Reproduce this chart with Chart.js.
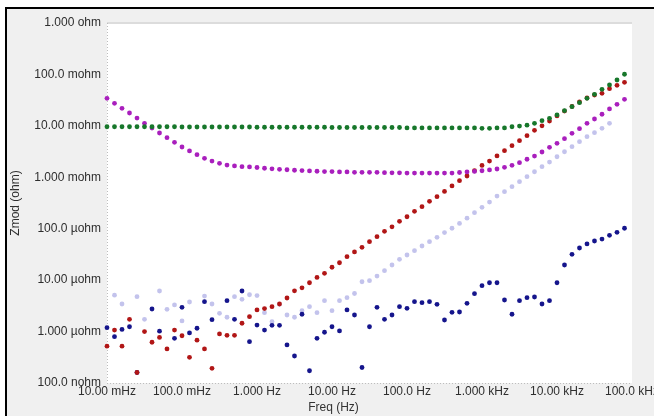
<!DOCTYPE html>
<html>
<head>
<meta charset="utf-8">
<title>Zmod vs Freq</title>
<script src="https://cdn.jsdelivr.net/npm/chart.js@4.4.1/dist/chart.umd.min.js"></script>
<style>
  html, body { margin: 0; padding: 0; background: #fff; }
  #frame {
    position: absolute; left: 5px; top: 7px; width: 649px; height: 409px;
    box-sizing: border-box; border-left: 2px solid #000; border-top: 2px solid #000;
    background: #f0f0f0;
  }
  #myChart { position: absolute; left: 0; top: 0; }
</style>
</head>
<body>
<div id="frame"><canvas id="myChart" width="647" height="407"></canvas></div>
<script>
// Frequencies (Hz), 10 points per decade
const freq = [
  0.01, 0.01259, 0.01585, 0.01995, 0.02512, 0.03162, 0.03981, 0.05012, 0.0631, 0.07943,
  0.1, 0.1259, 0.1585, 0.1995, 0.2512, 0.3162, 0.3981, 0.5012, 0.631, 0.7943,
  1, 1.259, 1.585, 1.995, 2.512, 3.162, 3.981, 5.012, 6.31, 7.943,
  10, 12.59, 15.85, 19.95, 25.12, 31.62, 39.81, 50.12, 63.1, 79.43,
  100, 125.9, 158.5, 199.5, 251.2, 316.2, 398.1, 501.2, 631, 794.3,
  1000, 1259, 1585, 1995, 2512, 3162, 3981, 5012, 6310, 7943,
  10000, 12590, 15850, 19950, 25120, 31620, 39810, 50120, 63100, 79430
];

// Zmod (ohm) per series
const zGreen = [
  0.0096, 0.0096, 0.0096, 0.0096, 0.0096, 0.0096, 0.0096, 0.0096, 0.0096, 0.0096,
  0.0095, 0.0095, 0.0095, 0.0095, 0.0095, 0.0095, 0.0095, 0.0095, 0.0095, 0.0095,
  0.0094, 0.0094, 0.0094, 0.0094, 0.0094, 0.0094, 0.0094, 0.0094, 0.0094, 0.0094,
  0.0093, 0.0093, 0.0093, 0.0093, 0.0093, 0.0093, 0.0093, 0.0093, 0.0093, 0.0093,
  0.0091, 0.0091, 0.0091, 0.0091, 0.0091, 0.0091, 0.0091, 0.0091, 0.0091, 0.0091,
  0.00897, 0.00897, 0.0091, 0.0091, 0.0096, 0.0099, 0.0103, 0.0112, 0.0126, 0.014,
  0.0163, 0.0197, 0.0236, 0.0282, 0.0343, 0.0411, 0.0514, 0.0623, 0.078, 0.1007
];
const zMagenta = [
  0.0343, 0.0274, 0.0219, 0.0178, 0.0142, 0.0112, 0.00908, 0.00726, 0.00589, 0.00479,
  0.00388, 0.00325, 0.00275, 0.00234, 0.00207, 0.00187, 0.00173, 0.00166, 0.00161, 0.00159,
  0.00155, 0.0015, 0.00146, 0.00143, 0.0014, 0.00137, 0.00135, 0.00133, 0.00131, 0.00129,
  0.00129, 0.00127, 0.00127, 0.00125, 0.00125, 0.00125, 0.00125, 0.00123, 0.00122, 0.00122,
  0.00121, 0.00121, 0.00121, 0.00121, 0.00121, 0.00121, 0.00121, 0.00124, 0.00127, 0.0013,
  0.00134, 0.00139, 0.00145, 0.00156, 0.00171, 0.00192, 0.00224, 0.00259, 0.0031, 0.00383,
  0.00458, 0.00563, 0.00716, 0.00881, 0.0112, 0.0136, 0.0168, 0.0213, 0.0262, 0.0328
];
const zRed = [
  5.2e-7, 1.07e-6, 5.2e-7, 1.73e-6, 1.6e-7, 1.0e-6, 6.2e-7, 7.7e-7, 4.6e-7, 1.07e-6,
  8.3e-7, 3.16e-7, 6.8e-7, 4.6e-7, 1.93e-7, 9.0e-7, 8.45e-7, 8.45e-7, 1.45e-6, 1.95e-6,
  2.63e-6, 2.8e-6, 3.05e-6, 3.44e-6, 4.5e-6, 6.2e-6, 7.1e-6, 8.9e-6, 1.13e-5, 1.36e-5,
  1.78e-5, 2.18e-5, 2.86e-5, 3.53e-5, 4.35e-5, 5.6e-5, 7.0e-5, 8.9e-5, 1.09e-4, 1.39e-4,
  1.71e-4, 2.18e-4, 2.68e-4, 3.41e-4, 4.2e-4, 5.3e-4, 6.8e-4, 8.6e-4, 1.06e-3, 1.34e-3,
  1.7e-3, 2.07e-3, 2.6e-3, 3.29e-3, 4.11e-3, 5.14e-3, 6.44e-3, 8.18e-3, 1.0e-2, 1.24e-2,
  1.56e-2, 1.94e-2, 2.38e-2, 2.91e-2, 3.48e-2, 3.98e-2, 4.3e-2, 5.28e-2, 6.14e-2, 7.03e-2
];
const zLavender = [
  null, 5.1e-6, 3.44e-6, null, 4.77e-6, 1.73e-6, null, 6.15e-6, 2.71e-6, 3.29e-6,
  1.61e-6, 3.76e-6, null, 4.9e-6, 3.44e-6, 2.26e-6, 1.9e-6, 4.77e-6, 4.24e-6, 5.2e-6,
  5.0e-6, 2.33e-6, 1.56e-6, 3.39e-6, 2.1e-6, 1.9e-6, 2.55e-6, 3.05e-6, 2.33e-6, 3.98e-6,
  2.55e-6, 3.98e-6, 4.56e-6, 5.5e-6, 9.3e-6, 9.75e-6, 1.2e-5, 1.53e-5, 1.97e-5, 2.54e-5,
  3.08e-5, 3.74e-5, 4.61e-5, 5.6e-5, 6.8e-5, 8.4e-5, 1.02e-4, 1.27e-4, 1.6e-4, 2.05e-4,
  2.6e-4, 3.3e-4, 4.32e-4, 5.25e-4, 6.56e-4, 8.2e-4, 1.03e-3, 1.28e-3, 1.61e-3, 1.98e-3,
  2.51e-3, 3.14e-3, 3.93e-3, 4.92e-3, 6.15e-3, 7.36e-3, 8.97e-3, 1.12e-2, null, null
];
const zBlue = [
  1.19e-6, 7.96e-7, 1.1e-6, 1.24e-6, 1.6e-7, null, 2.75e-6, 1.02e-6, null, 7.4e-7,
  2.96e-6, 9.4e-7, 1.16e-6, 3.81e-6, 1.7e-6, null, 3.98e-6, 1.73e-6, 6.15e-6, 6.35e-7,
  1.34e-6, 1.07e-6, 1.32e-6, 1.32e-6, 5.5e-7, 3.35e-7, 2.17e-6, 1.73e-7, 7.4e-7, 9.7e-7,
  1.24e-6, 1.03e-6, 2.63e-6, 2.1e-6, 2.0e-7, 1.24e-6, 2.96e-6, 1.73e-6, 2.1e-6, 3.05e-6,
  2.83e-6, 3.81e-6, 3.65e-6, 3.81e-6, 3.39e-6, 1.68e-6, 2.37e-6, 2.4e-6, 3.54e-6, 5.45e-6,
  7.8e-6, 8.9e-6, 8.9e-6, 4.11e-6, 2.17e-6, 3.98e-6, 4.56e-6, 4.7e-6, 3.44e-6, 3.98e-6,
  8.9e-6, 1.97e-5, 3.18e-5, 4.22e-5, 5.05e-5, 5.77e-5, 6.3e-5, 7.45e-5, 8.5e-5, 1.02e-4
];

// Axis ticks
const xTicks = [0.01, 0.1, 1, 10, 100, 1000, 10000, 100000];
const xTickLabels = ['10.00 mHz', '100.0 mHz', '1.000 Hz', '10.00 Hz', '100.0 Hz', '1.000 kHz', '10.00 kHz', '100.0 kHz'];
const yTicks = [1e-7, 1e-6, 1e-5, 1e-4, 1e-3, 1e-2, 1e-1, 1];
const yTickLabels = ['100.0 nohm', '1.000 \u00b5ohm', '10.00 \u00b5ohm', '100.0 \u00b5ohm', '1.000 mohm', '10.00 mohm', '100.0 mohm', '1.000 ohm'];
const xTitle = 'Freq (Hz)';
const yTitle = 'Zmod (ohm)';

const FONT = '"Liberation Sans", Arial, sans-serif';

function toPoints(values) {
    const pts = [];
    values.forEach((v, i) => {
        if (v !== null) pts.push({ x: freq[i], y: v });
    });
    return pts;
}

function dots(label, values, color) {
    return {
        label: label,
        data: toPoints(values),
        showLine: false,
        pointRadius: 2.4,
        pointHoverRadius: 2.4,
        pointBorderWidth: 0,
        pointBackgroundColor: color,
        borderColor: color,
        clip: false
    };
}

// --- plot background, axis edges and x title ---
const plotFrame = {
    id: 'plotFrame',
    beforeDraw(chart) {
        const { ctx, chartArea: a } = chart;
        ctx.save();
        ctx.fillStyle = '#fff';
        ctx.fillRect(a.left, a.top, a.right - a.left, a.bottom - a.top);
        ctx.fillStyle = '#dcdcdc';
        ctx.fillRect(a.left, a.top - 1, a.right - a.left, 2);
        ctx.strokeStyle = '#bdbdbd';
        ctx.lineWidth = 1;
        ctx.setLineDash([1, 2]);
        ctx.beginPath();
        ctx.moveTo(a.left + 0.5, a.top);
        ctx.lineTo(a.left + 0.5, a.bottom);
        ctx.moveTo(a.left, a.bottom + 0.5);
        ctx.lineTo(a.right, a.bottom + 0.5);
        ctx.stroke();
        ctx.restore();
    },
    afterDraw(chart) {
        const ctx = chart.ctx;
        ctx.save();
        ctx.font = '12px ' + FONT;
        ctx.fillStyle = '#333';
        ctx.textAlign = 'center';
        ctx.textBaseline = 'middle';
        ctx.fillText(xTitle, chart.width / 2 + 3, chart.height - 8);
        ctx.restore();
    }
};

document.addEventListener('DOMContentLoaded', function() {
    const ctx = document.getElementById('myChart');
    Chart.defaults.font.family = FONT;
    Chart.defaults.font.size = 12;
    Chart.defaults.color = '#2e2e2e';

    new Chart(ctx, {
        type: 'scatter',
        data: {
            datasets: [
                dots('green', zGreen, '#17772b'),
                dots('magenta', zMagenta, '#a91fbd'),
                dots('red', zRed, '#b11616'),
                dots('blue', zBlue, '#15158c'),
                dots('lavender', zLavender, '#c3c3ec')
            ]
        },
        options: {
            responsive: false,
            animation: false,
            layout: { padding: { top: 14, right: 22, left: 0, bottom: 15 } },
            plugins: {
                legend: { display: false },
                tooltip: { enabled: false }
            },
            scales: {
                x: {
                    type: 'logarithmic',
                    min: 0.01,
                    max: 100000,
                    grid: { display: false, drawTicks: false },
                    border: { display: false },
                    afterBuildTicks: s => { s.ticks = xTicks.map(v => ({ value: v })); },
                    afterFit: s => { s.height = 18; s.paddingLeft = 0; s.paddingRight = 0; },
                    ticks: {
                        autoSkip: false,
                        maxRotation: 0,
                        padding: 1,
                        callback: (v, i) => xTickLabels[i]
                    }
                },
                y: {
                    type: 'logarithmic',
                    min: 1e-7,
                    max: 1,
                    grid: { display: false, drawTicks: false },
                    border: { display: false },
                    afterBuildTicks: s => { s.ticks = yTicks.map(v => ({ value: v })); },
                    afterFit: s => { s.width = 100; s.paddingTop = 0; s.paddingBottom = 0; },
                    title: {
                        display: true,
                        text: yTitle,
                        font: { size: 12 },
                        padding: { top: 1, bottom: 0 }
                    },
                    ticks: {
                        autoSkip: false,
                        padding: 6,
                        callback: (v, i) => yTickLabels[i]
                    }
                }
            }
        },
        plugins: [plotFrame]
    });
});
</script>
</body>
</html>
